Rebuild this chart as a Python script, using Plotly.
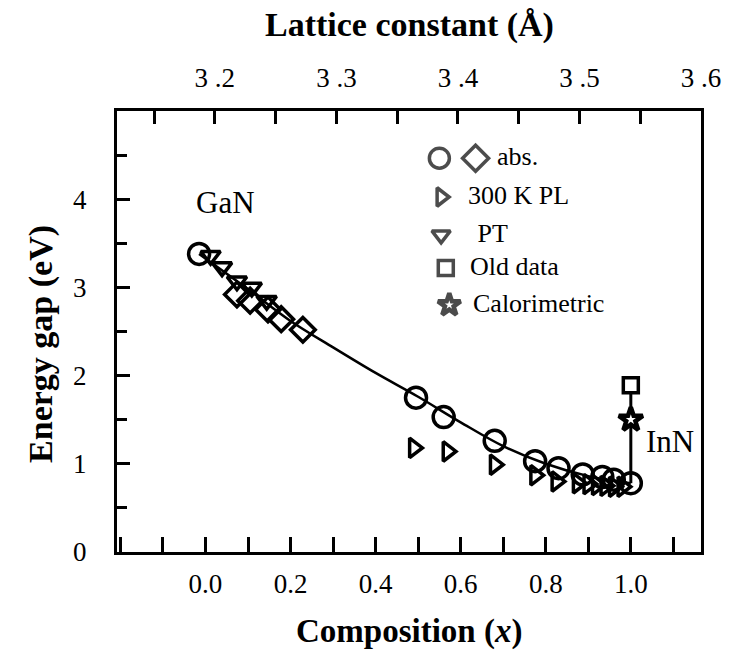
import plotly.graph_objects as go

# ---- data ----
abs_circle_x = [-0.015, 0.495, 0.56, 0.68, 0.775, 0.83, 0.887, 0.933, 0.96, 1.0]
abs_circle_y = [3.38, 1.75, 1.53, 1.26, 1.03, 0.95, 0.88, 0.85, 0.82, 0.78]

abs_diamond_x = [0.074, 0.105, 0.147, 0.178, 0.229]
abs_diamond_y = [2.92, 2.85, 2.75, 2.64, 2.52]

pl_x = [0.49, 0.569, 0.68, 0.775, 0.825, 0.875, 0.90, 0.92, 0.94, 0.96, 0.98]
pl_y = [1.18, 1.14, 0.99, 0.87, 0.80, 0.78, 0.77, 0.76, 0.75, 0.74, 0.74]

pt_x = [0.012, 0.039, 0.074, 0.109, 0.144]
pt_y = [3.36, 3.23, 3.07, 3.00, 2.85]

old_x = [1.0]
old_y = [1.89]

cal_x = [1.0]
cal_y = [1.50]

fit_x = [-0.015, 0.1, 0.2, 0.3, 0.4, 0.5, 0.6, 0.7, 0.8, 0.9, 1.0]
fit_y = [3.38, 2.98, 2.62, 2.32, 2.03, 1.76, 1.47, 1.20, 1.00, 0.86, 0.78]

y_ticks = [0, 1, 2, 3, 4]
x_ticks = [0.0, 0.2, 0.4, 0.6, 0.8, 1.0]
x_tick_text = ["0.0", "0.2", "0.4", "0.6", "0.8", "1.0"]
lat_ticks = [3.2, 3.3, 3.4, 3.5, 3.6]
lat_tick_text = ["3 .2", "3 .3", "3 .4", "3 .5", "3 .6"]

x_range = [-0.208, 1.165]
y_range = [0, 5]
lat_range = [3.1195, 3.6]

FONT = "Liberation Serif"
BLACK = "black"
LW = 3.5

fig = go.Figure()

# fit curve
fig.add_trace(go.Scatter(x=fit_x, y=fit_y, mode="lines", line=dict(color=BLACK, width=2.5, shape="spline"),
                         showlegend=False, hoverinfo="skip"))
# vertical line at InN (abs -> old data)
fig.add_trace(go.Scatter(x=[abs_circle_x[-1], old_x[0]], y=[abs_circle_y[-1], old_y[0]], mode="lines",
                         line=dict(color=BLACK, width=3), showlegend=False, hoverinfo="skip"))

def mk(symbol, size):
    return dict(symbol=symbol, size=size, color=BLACK, line=dict(color=BLACK, width=LW))

fig.add_trace(go.Scatter(x=pl_x, y=pl_y, mode="markers", marker=mk("triangle-right-open", 17), showlegend=False))
fig.add_trace(go.Scatter(x=pt_x, y=pt_y, mode="markers", marker=mk("triangle-down-open", 17), showlegend=False))
fig.add_trace(go.Scatter(x=abs_diamond_x, y=abs_diamond_y, mode="markers", marker=mk("diamond-open", 19), showlegend=False))
fig.add_trace(go.Scatter(x=abs_circle_x, y=abs_circle_y, mode="markers", marker=mk("circle-open", 21), showlegend=False))
fig.add_trace(go.Scatter(x=old_x, y=old_y, mode="markers",
                         marker=dict(symbol="square", size=15, color="white", line=dict(color=BLACK, width=LW)),
                         showlegend=False))
fig.add_trace(go.Scatter(x=cal_x, y=cal_y, mode="markers",
                         marker=dict(symbol="star", size=18, color="white", line=dict(color=BLACK, width=4.5)),
                         showlegend=False))

# invisible trace so top axis is drawn
fig.add_trace(go.Scatter(x=lat_range, y=[None, None], xaxis="x2", mode="markers", showlegend=False,
                         hoverinfo="skip"))

# legend keys (on an overlay axis spanning the plot area, 0..1)
leg_sym_x = [0.552, 0.614, 0.555, 0.555, 0.563, 0.569]
leg_sym_y = [0.893, 0.893, 0.805, 0.719, 0.644, 0.560]
leg_symbols = ["circle-open", "diamond-open", "triangle-right-open", "triangle-down-open", "square", "star"]
leg_sizes = [20, 20, 16, 16, 15, 17]
fig.add_trace(go.Scatter(x=leg_sym_x, y=leg_sym_y, xaxis="x3", yaxis="y3", mode="markers",
                         marker=dict(symbol=leg_symbols, size=leg_sizes, color=["black"] * 4 + ["white", "white"],
                                     line=dict(color=BLACK, width=[LW, LW, LW, LW, LW, 4.5])),
                         showlegend=False, hoverinfo="skip"))

leg_text = ["abs.", "300 K PL", " PT", "Old data", "Calorimetric"]
leg_text_x = [0.648, 0.597, 0.603, 0.601, 0.606]
leg_text_y = [0.896, 0.808, 0.722, 0.647, 0.563]

ann = []
for t, x, y in zip(leg_text, leg_text_x, leg_text_y):
    ann.append(dict(text=t, x=x, y=y, xref="paper", yref="paper", xanchor="left", yanchor="middle",
                    showarrow=False, font=dict(family=FONT, size=26, color=BLACK)))
ann.append(dict(text="GaN", x=-0.027, y=3.96, xref="x", yref="y", xanchor="left", yanchor="middle",
                showarrow=False, font=dict(family=FONT, size=31, color=BLACK)))
ann.append(dict(text="InN", x=1.03, y=1.25, xref="x", yref="y", xanchor="left", yanchor="middle",
                showarrow=False, font=dict(family=FONT, size=31, color=BLACK)))
ann.append(dict(text="<b>Lattice constant (Å)</b>", x=0.5, y=1.195, xref="paper", yref="paper",
                xanchor="center", yanchor="middle", showarrow=False, font=dict(family=FONT, size=34, color=BLACK)))
ann.append(dict(text="<b>Composition (<i>x</i>)</b>", x=0.5, y=-0.181, xref="paper", yref="paper",
                xanchor="center", yanchor="middle", showarrow=False, font=dict(family=FONT, size=33, color=BLACK)))
ann.append(dict(text="<b>Energy gap (eV)</b>", x=-0.130, y=0.472, xref="paper", yref="paper", textangle=-90,
                xanchor="center", yanchor="middle", showarrow=False, font=dict(family=FONT, size=34, color=BLACK)))

fig.update_layout(
    width=733, height=662,
    margin=dict(l=117, r=25, t=111, b=110),
    paper_bgcolor="white", plot_bgcolor="white",
    showlegend=False,
    font=dict(family=FONT, color=BLACK),
    annotations=ann,
    xaxis=dict(range=x_range, tickmode="array", tickvals=x_ticks, ticktext=x_tick_text,
               ticks="inside", ticklen=15, tickwidth=2.5, tickcolor=BLACK,
               minor=dict(dtick=0.1, tick0=0, ticks="inside", ticklen=15, tickwidth=2.5, tickcolor=BLACK),
               showline=True, linewidth=3, linecolor=BLACK, mirror=False, showgrid=False, zeroline=False,
               tickfont=dict(family=FONT, size=27, color=BLACK), ticklabelstandoff=6),
    xaxis2=dict(range=lat_range, overlaying="x", side="top", tickmode="array", tickvals=lat_ticks,
                ticktext=lat_tick_text, ticks="inside", ticklen=13, tickwidth=2.5, tickcolor=BLACK,
                minor=dict(dtick=0.05, tick0=3.0, ticks="inside", ticklen=13, tickwidth=2.5, tickcolor=BLACK),
                showline=True, linewidth=3, linecolor=BLACK, showgrid=False, zeroline=False,
                tickfont=dict(family=FONT, size=27, color=BLACK), ticklabelstandoff=10),
    yaxis=dict(range=y_range, tickmode="array", tickvals=y_ticks, ticks="inside", ticklen=13, tickwidth=2.5,
               tickcolor=BLACK,
               minor=dict(dtick=0.5, tick0=0, ticks="inside", ticklen=10, tickwidth=2.5, tickcolor=BLACK),
               showline=True, linewidth=3, linecolor=BLACK, mirror=True, showgrid=False, zeroline=False,
               tickfont=dict(family=FONT, size=27, color=BLACK), ticklabelstandoff=22),
    xaxis3=dict(domain=[0, 1], range=[0, 1], anchor="y3", overlaying="x", visible=False),
    yaxis3=dict(domain=[0, 1], range=[0, 1], anchor="x3", overlaying="y", visible=False),
)

fig.write_html("out.html")
